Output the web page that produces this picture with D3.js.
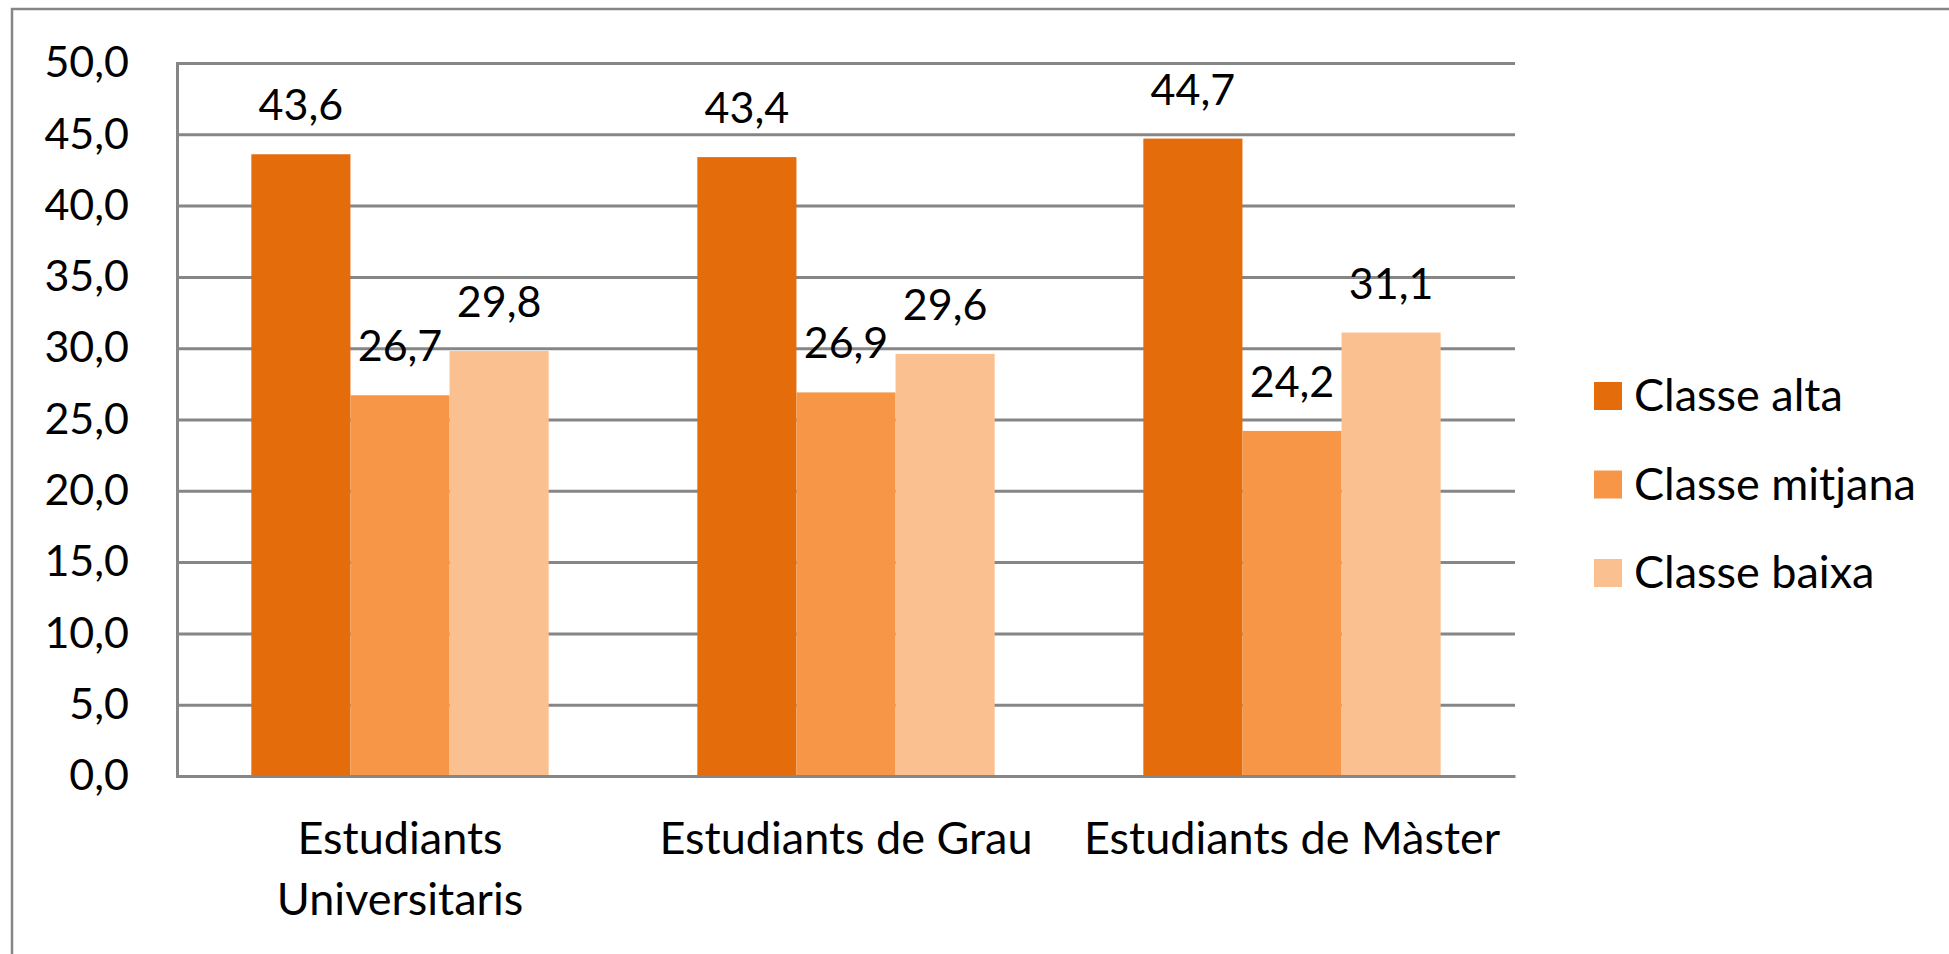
<!DOCTYPE html>
<meta charset="utf-8">
<script src="https://d3js.org/d3.v7.min.js"></script>
<style>
  body { margin: 0; background: #fff; }
  text { font-family: Lato, "Open Sans", sans-serif; fill: #000; }
</style>
<div id="chart"></div>
<script>

// data
var categories = ["Estudiants Universitaris", "Estudiants de Grau", "Estudiants de Màster"];
var seriesNames = ["Classe alta", "Classe mitjana", "Classe baixa"];
var classeAlta = [43.6, 43.4, 44.7];
var classeMitjana = [26.7, 26.9, 24.2];
var classeBaixa = [29.8, 29.6, 31.1];
var yTicks = [0, 5, 10, 15, 20, 25, 30, 35, 40, 45, 50];

var colors = ["#E46C0A", "#F79646", "#FAC090"];
var series = [classeAlta, classeMitjana, classeBaixa];

var W = 1949, H = 954;
var plotL = 177, plotR = 1515, plotT = 63, plotB = 776;
var fontSize = 43, labelSize = 45;

var svg = d3.select("#chart").append("svg")
    .attr("width", W)
    .attr("height", H);

// outer frame (runs off the right and bottom edge)
svg.append("rect")
    .attr("x", 12).attr("y", 9)
    .attr("width", W).attr("height", H)
    .attr("fill", "none")
    .attr("stroke", "#868686")
    .attr("stroke-width", 2.5);

var y = d3.scaleLinear().domain([0, 50]).range([plotB, plotT]);

var x0 = d3.scaleBand()
    .domain(categories)
    .range([plotL, plotR])
    .paddingInner(1 / 3)
    .paddingOuter(1 / 6);

var x1 = d3.scaleBand()
    .domain(d3.range(series.length))
    .range([0, x0.bandwidth()]);

var fmt = function(v) { return d3.format(".1f")(v).replace(".", ","); };

// y axis with gridlines
var yAxis = svg.append("g")
    .attr("transform", "translate(" + plotL + ",0)")
    .call(d3.axisLeft(y)
      .tickValues(yTicks)
      .tickSize(-(plotR - plotL))
      .tickPadding(48)
      .tickFormat(fmt));
yAxis.select(".domain").attr("stroke", "#868686").attr("stroke-width", 3);
yAxis.selectAll(".tick line").attr("stroke", "#868686").attr("stroke-width", 3);
yAxis.selectAll(".tick text")
    .style("font-family", "Lato, sans-serif")
    .attr("font-size", fontSize)
    .attr("fill", "#000");

// bars
var groups = svg.selectAll(".grp")
    .data(categories)
    .enter().append("g")
    .attr("class", "grp")
    .attr("transform", function(d) { return "translate(" + x0(d) + ",0)"; });

groups.selectAll("rect")
    .data(function(d, i) { return series.map(function(s, j) { return {j: j, v: s[i]}; }); })
    .enter().append("rect")
    .attr("x", function(d) { return x1(d.j); })
    .attr("y", function(d) { return y(d.v); })
    .attr("width", x1.bandwidth())
    .attr("height", function(d) { return y(0) - y(d.v); })
    .attr("fill", function(d) { return colors[d.j]; });

groups.selectAll(".lbl")
    .data(function(d, i) { return series.map(function(s, j) { return {j: j, v: s[i]}; }); })
    .enter().append("text")
    .attr("class", "lbl")
    .attr("x", function(d) { return x1(d.j) + x1.bandwidth() / 2; })
    .attr("y", function(d) { return y(d.v) - 34; })
    .attr("text-anchor", "middle")
    .attr("font-size", fontSize)
    .text(function(d) { return fmt(d.v); });

// x axis
var xAxis = svg.append("g")
    .attr("transform", "translate(0," + plotB + ")")
    .call(d3.axisBottom(x0).tickSize(0).tickPadding(0));
xAxis.select(".domain").attr("stroke", "#868686").attr("stroke-width", 3);
xAxis.selectAll(".tick text").remove();

// category labels, wrapped when wider than the band step
xAxis.selectAll(".tick").each(function(d) {
  var t = d3.select(this).append("text")
      .attr("text-anchor", "middle")
      .attr("font-size", labelSize)
      .attr("y", 78);
  var words = d.split(" "), line = [], lines = [];
  var probe = t.append("tspan");
  words.forEach(function(w) {
    line.push(w);
    probe.text(line.join(" "));
    if (probe.node().getComputedTextLength() > x0.step() * 0.96 && line.length > 1) {
      line.pop();
      lines.push(line.join(" "));
      line = [w];
    }
  });
  lines.push(line.join(" "));
  probe.remove();
  lines.forEach(function(l, k) {
    t.append("tspan").attr("x", 0).attr("dy", k === 0 ? 0 : 61).text(l);
  });
});

// legend
var legend = svg.selectAll(".leg")
    .data(seriesNames)
    .enter().append("g")
    .attr("class", "leg")
    .attr("transform", function(d, i) { return "translate(1594," + (382 + i * 88.5) + ")"; });

legend.append("rect")
    .attr("width", 28).attr("height", 28)
    .attr("fill", function(d, i) { return colors[i]; });

legend.append("text")
    .attr("x", 40)
    .attr("y", 29)
    .attr("font-size", labelSize)
    .text(function(d) { return d; });

</script>
